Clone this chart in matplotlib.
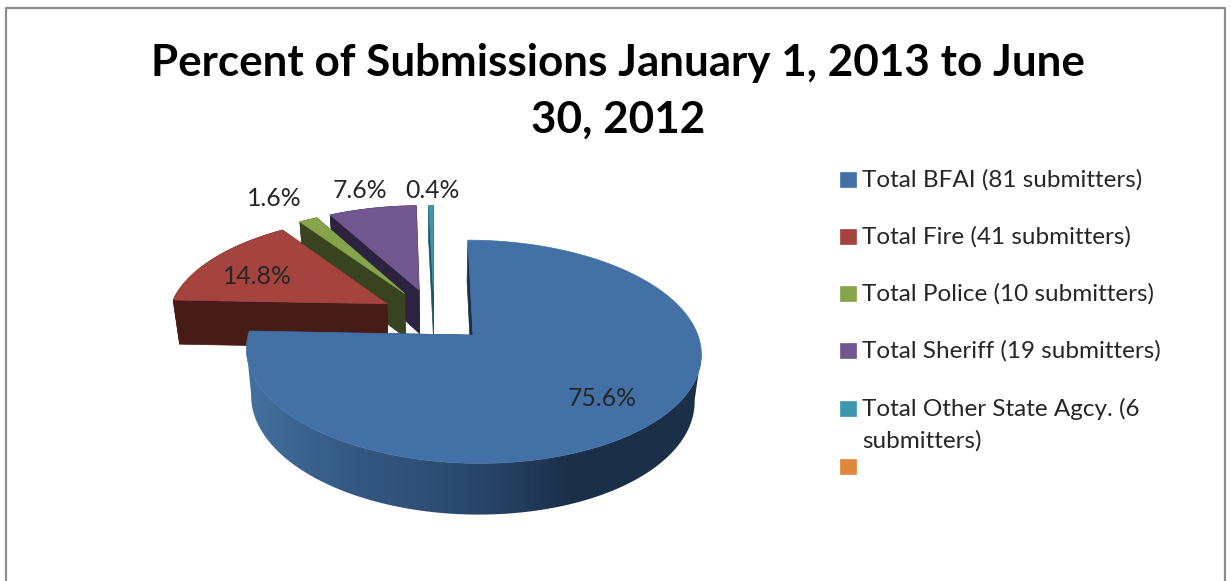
import numpy as np
import matplotlib
matplotlib.use("Agg")
import matplotlib.pyplot as plt
import matplotlib.colors as mcolors
from matplotlib.patches import Polygon

plt.rcParams["font.family"] = ["Lato", "DejaVu Sans"]

# --- chart values ---
legend_labels = [
    "Total BFAI (81 submitters)",
    "Total Fire (41 submitters)",
    "Total Police (10 submitters)",
    "Total Sheriff (19 submitters)",
    "Total Other State Agcy. (6\nsubmitters)",
    "",
]
percents = [75.6, 14.8, 1.6, 7.6, 0.4, 0.0]
title_text = "Percent of Submissions January 1, 2013 to June\n30, 2012"

# --- styles ---
top_colors = ["#4371a6", "#a5443f", "#86a44a", "#70578f", "#3c96ae", "#df873d"]
wall_colors = ["#1b2f47", "#471b16", "#38431f", "#2d2340", "#1c5566", "#6b3f18"]
explode = [0.25, 0.25, 0.263, 0.27, 0.26, 0.0]
label_pos = [(602, 398), (257, 277), (274, 198), (360, 191), (432, 190)]
legend_rows = [179, 236, 293, 350, 408, 466]

# pie projection, in pixels
CX, CY = 434, 316
RX, RY = 219, 103.5
PERSP = 0.145
DEPTH = 45
DEPTH_SLOPE = 5.3
BOTTOM_SCALE = 0.975

# shading along the side of the big slice
wall_stops_x = [250, 340, 470, 570, 705]
wall_stops_col = ["#44709f", "#365b86", "#2a486d", "#1c2f48", "#1b2f47"]


def project(u, v, bottom=False):
    u = np.asarray(u, dtype=float)
    v = np.asarray(v, dtype=float)
    w = 1 + PERSP * v
    x = RX * u / w
    y = CY - RY * v / w
    if bottom:
        x = x * BOTTOM_SCALE
        y = y + DEPTH - DEPTH_SLOPE * v
    return CX + x, y


def slice_outline(start, stop, exp, steps=160):
    # angles run clockwise from 12 o'clock
    mid = (start + stop) / 2
    u0, v0 = exp * np.sin(mid), exp * np.cos(mid)
    t = np.linspace(start, stop, steps)
    return u0, v0, u0 + np.sin(t), v0 + np.cos(t)


def draw_gradient_wall(ax, px, py):
    # horizontal gradient clipped to the rim outline
    xs = np.arange(240, 712)
    rgb = np.array([mcolors.to_rgb(c) for c in wall_stops_col])
    strip = np.stack([np.interp(xs, wall_stops_x, rgb[:, i]) for i in range(3)], axis=-1)
    img = ax.imshow(strip[np.newaxis, :, :], extent=(240, 712, 530, 330), aspect="auto",
                    interpolation="bilinear", zorder=1)
    clip = Polygon(np.column_stack([px, py]), transform=ax.transData, closed=True)
    img.set_clip_path(clip)
    ax.set_xlim(0, 1231)
    ax.set_ylim(581, 0)


def draw_slice(ax, start, stop, exp, top, wall, gradient=False):
    u0, v0, us, vs = slice_outline(start, stop, exp)

    # straight cut walls
    for u_end, v_end in [(us[0], vs[0]), (us[-1], vs[-1])]:
        xa, ya = project([u0, u_end], [v0, v_end])
        xb, yb = project([u_end, u0], [v_end, v0], bottom=True)
        ax.fill(np.r_[xa, xb], np.r_[ya, yb], color=wall, lw=0.5, zorder=1)

    # rim, only between the widest points so the outline does not fold over
    xt, yt = project(us, vs)
    xb, yb = project(us, vs, bottom=True)
    lo, hi = sorted([np.argmax(xt), np.argmin(xt)])
    px = np.r_[xt[lo:hi + 1], xb[lo:hi + 1][::-1]]
    py = np.r_[yt[lo:hi + 1], yb[lo:hi + 1][::-1]]
    if gradient:
        draw_gradient_wall(ax, px, py)
    else:
        ax.fill(px, py, color=wall, lw=0.5, zorder=1)

    # top face
    xc, yc = project(u0, v0)
    ax.fill(np.r_[xc, xt], np.r_[yc, yt], color=top, lw=0.5, zorder=1)


fig = plt.figure(figsize=(12.31, 5.81), dpi=100)
ax = fig.add_axes([0, 0, 1, 1])
ax.set_xlim(0, 1231)
ax.set_ylim(581, 0)
ax.axis("off")

# chart border, cut off at the bottom
ax.plot([6, 6, 1225, 1225], [581, 8, 8, 581], color="#8c8c8c", lw=1.6)

ax.text(618, 91, title_text, ha="center", va="center", fontsize=31.7,
        fontweight="bold", color="#000000", linespacing=1.5)

# slices, back ones first so the big one ends up on top
edges = np.radians(np.cumsum([0] + percents) * 3.6)
order = [4, 3, 2, 1, 0]
for i in order:
    draw_slice(ax, edges[i], edges[i + 1], explode[i], top_colors[i],
               wall_colors[i], gradient=(i == 0))

for pos, val in zip(label_pos, percents):
    ax.text(pos[0], pos[1], f"{val:.1f}%", ha="center", va="center",
            fontsize=17.8, color="#262626", zorder=3)

# legend
for label, col, y in zip(legend_labels, top_colors, legend_rows):
    ax.fill([840, 856, 856, 840], [y - 7.5, y - 7.5, y + 7.5, y + 7.5], color=col, lw=0.5)
    if label:
        ax.text(862, y - 10, label, ha="left", va="top", fontsize=17.5,
                color="#262626", linespacing=1.55)

fig.savefig("out.png", dpi=100, facecolor="white")
